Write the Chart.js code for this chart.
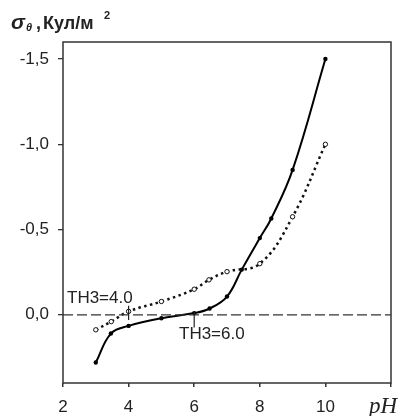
<!DOCTYPE html>
<html>
<head>
<meta charset="utf-8">
<script src="https://cdn.jsdelivr.net/npm/chart.js@4/dist/chart.umd.min.js"></script>
<style>
  html, body { margin: 0; padding: 0; background: #fff; }
  #wrap { position: relative; width: 405px; height: 416px; }
</style>
</head>
<body>
<div id="wrap"><canvas id="chart" width="405" height="416"></canvas></div>
<script>
  // values
  const pH6 = [3, 3.46, 4, 5, 6, 6.47, 7, 7.45, 8, 8.35, 9, 10];
  const sigma6 = [0.28, 0.11, 0.065, 0.02, -0.01, -0.037, -0.107, -0.265, -0.45, -0.565, -0.85, -1.5];

  const pH4 = [3, 3.47, 4, 5, 6, 6.45, 7, 8, 9, 10];
  const sigma4 = [0.088, 0.04, -0.02, -0.078, -0.15, -0.205, -0.253, -0.3, -0.575, -1.0];

  const zeroLine = [0, 0];
  const zeroX = [2, 12];

  const xTicks = [2, 4, 6, 8, 10, 12];
  const yTicks = [-1.5, -1.0, -0.5, 0.0];

  const labels = ["TH3=4.0", "TH3=6.0"];
  const labelPH = [4, 6];

  const FONT = "'Liberation Sans', Arial, sans-serif";
  const INK = "#222";

  const pts = (xs, ys) => xs.map((x, i) => ({ x, y: ys[i] }));

  const decor = {
    id: "decor",
    afterDatasetsDraw(chart) {
      const { ctx, chartArea: a, scales: { x, y } } = chart;
      ctx.save();
      // frame
      ctx.strokeStyle = "#333";
      ctx.lineWidth = 1.5;
      ctx.strokeRect(a.left, a.top, a.right - a.left, a.bottom - a.top);

      // TH3 markers
      ctx.lineWidth = 1.2;
      ctx.strokeStyle = INK;
      const x4 = x.getPixelForValue(labelPH[0]);
      const x6 = x.getPixelForValue(labelPH[1]);
      ctx.beginPath();
      ctx.moveTo(x4, y.getPixelForValue(-0.053));
      ctx.lineTo(x4, y.getPixelForValue(0.03));
      ctx.moveTo(x6, y.getPixelForValue(-0.018));
      ctx.lineTo(x6, y.getPixelForValue(0.075));
      ctx.stroke();

      ctx.fillStyle = INK;
      ctx.font = "17px " + FONT;
      ctx.textBaseline = "alphabetic";
      ctx.textAlign = "left";
      ctx.fillText(labels[0], 67, 303);
      ctx.fillText(labels[1], 179, 339);

      // axis titles
      ctx.font = "bold italic 21px " + FONT;
      ctx.fillText("σ", 11, 29);
      ctx.font = "bold italic 11px " + FONT;
      ctx.fillText("θ", 26, 31);
      ctx.font = "bold 18px " + FONT;
      ctx.fillText(",", 36, 29);
      ctx.fillText("Кул/м", 43, 29);
      ctx.font = "bold 11px " + FONT;
      ctx.fillText("2", 104, 19);

      ctx.font = "italic 23px 'Liberation Serif', serif";
      ctx.fillText("pH", 369, 413);
      ctx.restore();
    }
  };

  new Chart(document.getElementById("chart"), {
    type: "line",
    data: {
      datasets: [
        {
          data: pts(zeroX, zeroLine),
          borderColor: "#333",
          borderWidth: 1.3,
          borderDash: [10, 4],
          pointRadius: 0,
          tension: 0,
        },
        {
          data: pts(pH4, sigma4),
          borderColor: "#111",
          borderWidth: 2.5,
          borderDash: [2.5, 3.5],
          tension: 0.4,
          pointRadius: 2.2,
          pointBackgroundColor: "#fff",
          pointBorderColor: "#111",
          pointBorderWidth: 1,
        },
        {
          data: pts(pH6, sigma6),
          borderColor: "#000",
          borderWidth: 2,
          tension: 0.4,
          pointRadius: 2.2,
          pointBackgroundColor: "#000",
          pointBorderColor: "#000",
          pointBorderWidth: 0,
        },
      ],
    },
    options: {
      responsive: false,
      animation: false,
      events: [],
      layout: { padding: { top: 42, right: 14, left: 0, bottom: 0 } },
      plugins: { legend: { display: false }, tooltip: { enabled: false } },
      scales: {
        x: {
          type: "linear",
          min: 2,
          max: 12,
          afterFit: (s) => { s.height = 33; },
          afterBuildTicks: (s) => { s.ticks = xTicks.map((v) => ({ value: v })); },
          border: { display: false },
          grid: { drawOnChartArea: false, drawTicks: true, tickLength: 4, color: "#333", lineWidth: 1.5 },
          ticks: {
            maxRotation: 0,
            padding: 10,
            color: INK,
            font: { family: FONT, size: 17 },
            callback: (v) => (v === 12 ? "" : String(v)),
          },
        },
        y: {
          type: "linear",
          min: -1.6,
          max: 0.4,
          reverse: true,
          afterFit: (s) => { s.width = 63; },
          afterBuildTicks: (s) => { s.ticks = yTicks.map((v) => ({ value: v })); },
          border: { display: false },
          grid: { drawOnChartArea: false, drawTicks: true, tickLength: 5, color: "#333", lineWidth: 1.3 },
          ticks: {
            padding: 9,
            color: INK,
            font: { family: FONT, size: 17 },
            callback: (v) => Number(v).toFixed(1).replace(".", ","),
          },
        },
      },
    },
    plugins: [decor],
  });
</script>
</body>
</html>
